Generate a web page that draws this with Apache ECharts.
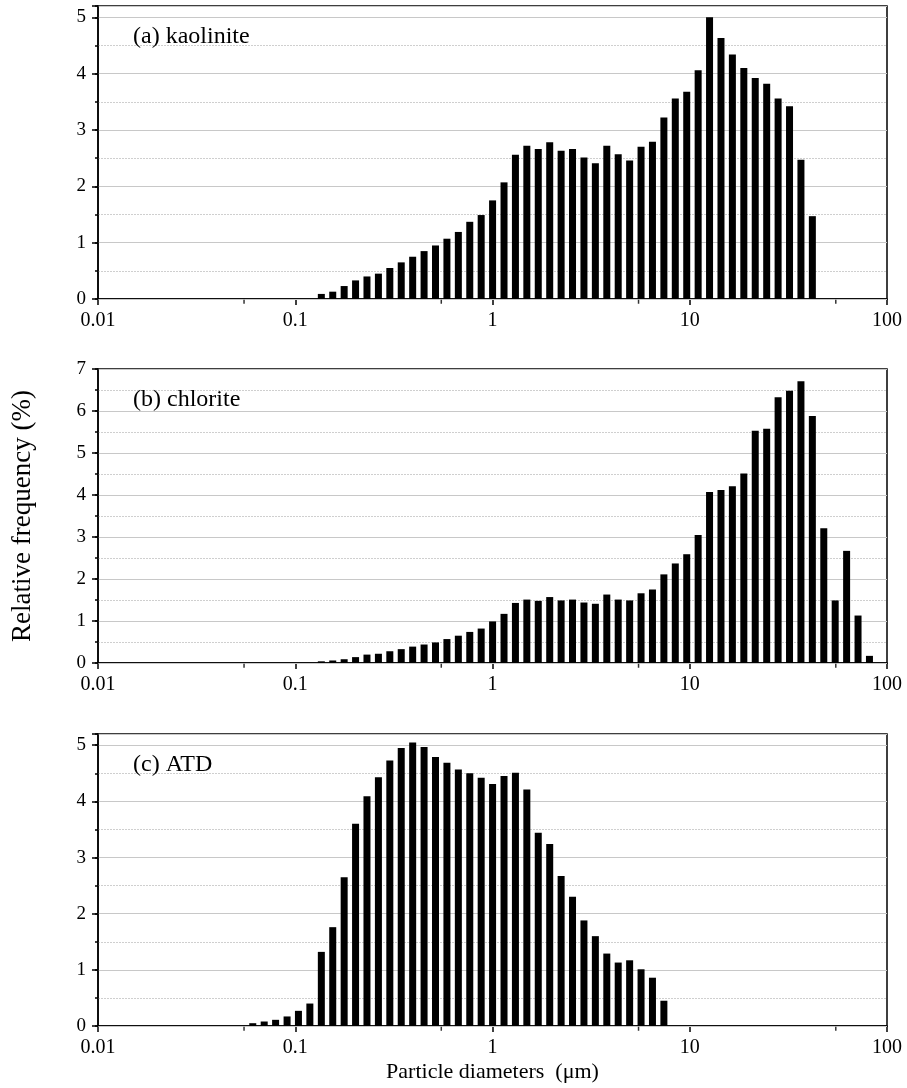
<!DOCTYPE html>
<html>
<head>
<meta charset="utf-8">
<script src="https://cdn.jsdelivr.net/npm/echarts@6/dist/echarts.min.js"></script>
<style>
  html, body { margin: 0; padding: 0; background: #fff; }
  #main { width: 907px; height: 1088px; }
</style>
</head>
<body>
<div id="main"></div>
<script>
// bin centre diameters (um), shared by all three panels
const binDiam = [
  0.0609, 0.0696, 0.0795, 0.0909, 0.1038, 0.1186,
  0.1356, 0.1549, 0.1770, 0.2022, 0.2310, 0.2640, 0.3016, 0.3446, 0.3938, 0.4499,
  0.5141, 0.5874, 0.6712, 0.7669, 0.8762,
  1.001, 1.144, 1.307, 1.493, 1.706, 1.950, 2.228, 2.545, 2.908, 3.323, 3.797,
  4.338, 4.957, 5.664, 6.471, 7.394, 8.448, 9.653,
  11.03, 12.60, 14.40, 16.45, 18.80, 21.48, 24.55, 28.05, 32.05, 36.62, 41.84,
  47.81, 54.62, 62.41, 71.31, 81.48
];

// relative frequency (%), kaolinite and chlorite start at bin 6, ATD at bin 0
const kaoliniteFreq = [
  0.09, 0.13, 0.23, 0.33, 0.40, 0.45, 0.55, 0.65, 0.75, 0.85, 0.95, 1.07, 1.19, 1.37, 1.49,
  1.75, 2.07, 2.56, 2.72, 2.66, 2.78, 2.63, 2.66, 2.51, 2.41, 2.72, 2.57, 2.46, 2.70, 2.79,
  3.22, 3.56, 3.68, 4.06, 5.00, 4.63, 4.34, 4.10, 3.92, 3.82, 3.56, 3.42, 2.47, 1.47
];
const chloriteFreq = [
  0.04, 0.06, 0.09, 0.14, 0.20, 0.22, 0.28, 0.33, 0.39, 0.44, 0.49, 0.57, 0.65, 0.74, 0.82,
  0.99, 1.17, 1.43, 1.51, 1.48, 1.57, 1.49, 1.51, 1.44, 1.41, 1.63, 1.51, 1.49, 1.66, 1.75,
  2.11, 2.37, 2.59, 3.05, 4.07, 4.12, 4.21, 4.51, 5.53, 5.58, 6.33, 6.48, 6.71, 5.88, 3.21,
  1.49, 2.67, 1.13, 0.17
];
const atdFreq = [
  0.05, 0.08, 0.11, 0.17, 0.27, 0.40, 1.32, 1.76, 2.65, 3.60, 4.09, 4.43, 4.73, 4.95, 5.05,
  4.97, 4.79, 4.69, 4.57, 4.50, 4.42, 4.31, 4.45, 4.51, 4.21, 3.44, 3.24, 2.67, 2.30, 1.88,
  1.60, 1.29, 1.13, 1.17, 1.01, 0.86, 0.45
];

const panelLabels = ['(a) kaolinite', '(b) chlorite', '(c) ATD'];
const panelFreq = [kaoliniteFreq, chloriteFreq, atdFreq];
const panelStartBin = [6, 6, 0];
const panelYMax = [5.2, 7, 5.2];
const xTickLabels = ['0.01', '0.1', '1', '10', '100'];
const xMinorTicks = [0.055, 0.55, 5.5, 55];

const FONT = '"Liberation Serif", "Times New Roman", serif';

const chart = echarts.init(document.getElementById('main'));

const grids = [
  { left: 98, width: 789, top: 6, height: 293 },
  { left: 98, width: 789, top: 369, height: 294 },
  { left: 98, width: 789, top: 734, height: 292 }
];

const xAxes = [];
const yAxes = [];
const series = [];

grids.forEach((g, i) => {
  g.show = true;
  g.borderColor = '#000';
  g.borderWidth = 1.5;
  g.backgroundColor = '#fff';
  g.containLabel = false;
  g.outerBoundsMode = 'none';

  xAxes.push({
    type: 'log',
    gridIndex: i,
    position: 'bottom',
    logBase: 10,
    min: 0.01,
    max: 100,
    axisLine: { onZero: false, lineStyle: { color: '#000', width: 1.5 } },
    axisTick: { length: 6, lineStyle: { color: '#000', width: 1.5 } },
    axisLabel: {
      color: '#000', fontFamily: FONT, fontSize: 20, margin: 12,
      formatter: v => xTickLabels[Math.round(Math.log10(v)) + 2]
    },
    splitLine: { show: false },
    name: i === 2 ? 'Particle diameters  (μm)' : '',
    nameLocation: 'middle',
    nameGap: 35,
    nameTextStyle: { color: '#000', fontFamily: FONT, fontSize: 22 }
  });

  // minor (0.5) gridlines and short ticks
  yAxes.push({
    type: 'value',
    gridIndex: i,
    position: 'left',
    offset: 0,
    min: 0,
    max: panelYMax[i],
    interval: 0.5,
    z: 1,
    axisLine: { show: false },
    axisTick: { show: true, length: 3, lineStyle: { color: '#000', width: 1.5 } },
    axisLabel: { show: false },
    splitLine: { lineStyle: { color: '#cfcfcf', width: 1, type: [2, 1] } }
  });
  // major (1) gridlines, ticks and labels
  yAxes.push({
    type: 'value',
    gridIndex: i,
    position: 'left',
    offset: 0,
    min: 0,
    max: panelYMax[i],
    interval: 1,
    z: 2,
    axisLine: { show: true, onZero: false, lineStyle: { color: '#000', width: 1.5 } },
    axisTick: { length: 6, lineStyle: { color: '#000', width: 1.5 } },
    axisLabel: {
      color: '#000', fontFamily: FONT, fontSize: 19, margin: 12,
      formatter: v => (Math.abs(v - Math.round(v)) < 1e-6 ? String(Math.round(v)) : '')
    },
    splitLine: { lineStyle: { color: '#c8c8c8', width: 1.2 } },
    name: i === 1 ? 'Relative frequency (%)' : '',
    nameLocation: 'middle',
    nameGap: 62,
    nameTextStyle: { color: '#000', fontFamily: FONT, fontSize: 27 }
  });

  const freq = panelFreq[i];
  series.push({
    type: 'bar',
    xAxisIndex: i,
    yAxisIndex: i * 2 + 1,
    barWidth: 7,
    itemStyle: { color: '#000' },
    silent: true,
    data: freq.map((v, k) => [binDiam[panelStartBin[i] + k], v])
  });

  series.push({
    type: 'scatter',
    xAxisIndex: i,
    yAxisIndex: i * 2 + 1,
    symbol: 'rect',
    symbolSize: [1.5, 4],
    symbolOffset: [0, 2.75],
    clip: false,
    silent: true,
    itemStyle: { color: '#000' },
    data: xMinorTicks.map(v => [v, 0])
  });
});

const labelTops = [25, 388, 753];

chart.setOption({
  animation: false,
  backgroundColor: '#fff',
  grid: grids,
  xAxis: xAxes,
  yAxis: yAxes,
  series: series,
  graphic: panelLabels.map((t, i) => ({
    type: 'text',
    left: 133,
    top: labelTops[i],
    z: 10,
    style: { text: t, fill: '#000', font: '24px ' + FONT }
  }))
});
</script>
</body>
</html>
